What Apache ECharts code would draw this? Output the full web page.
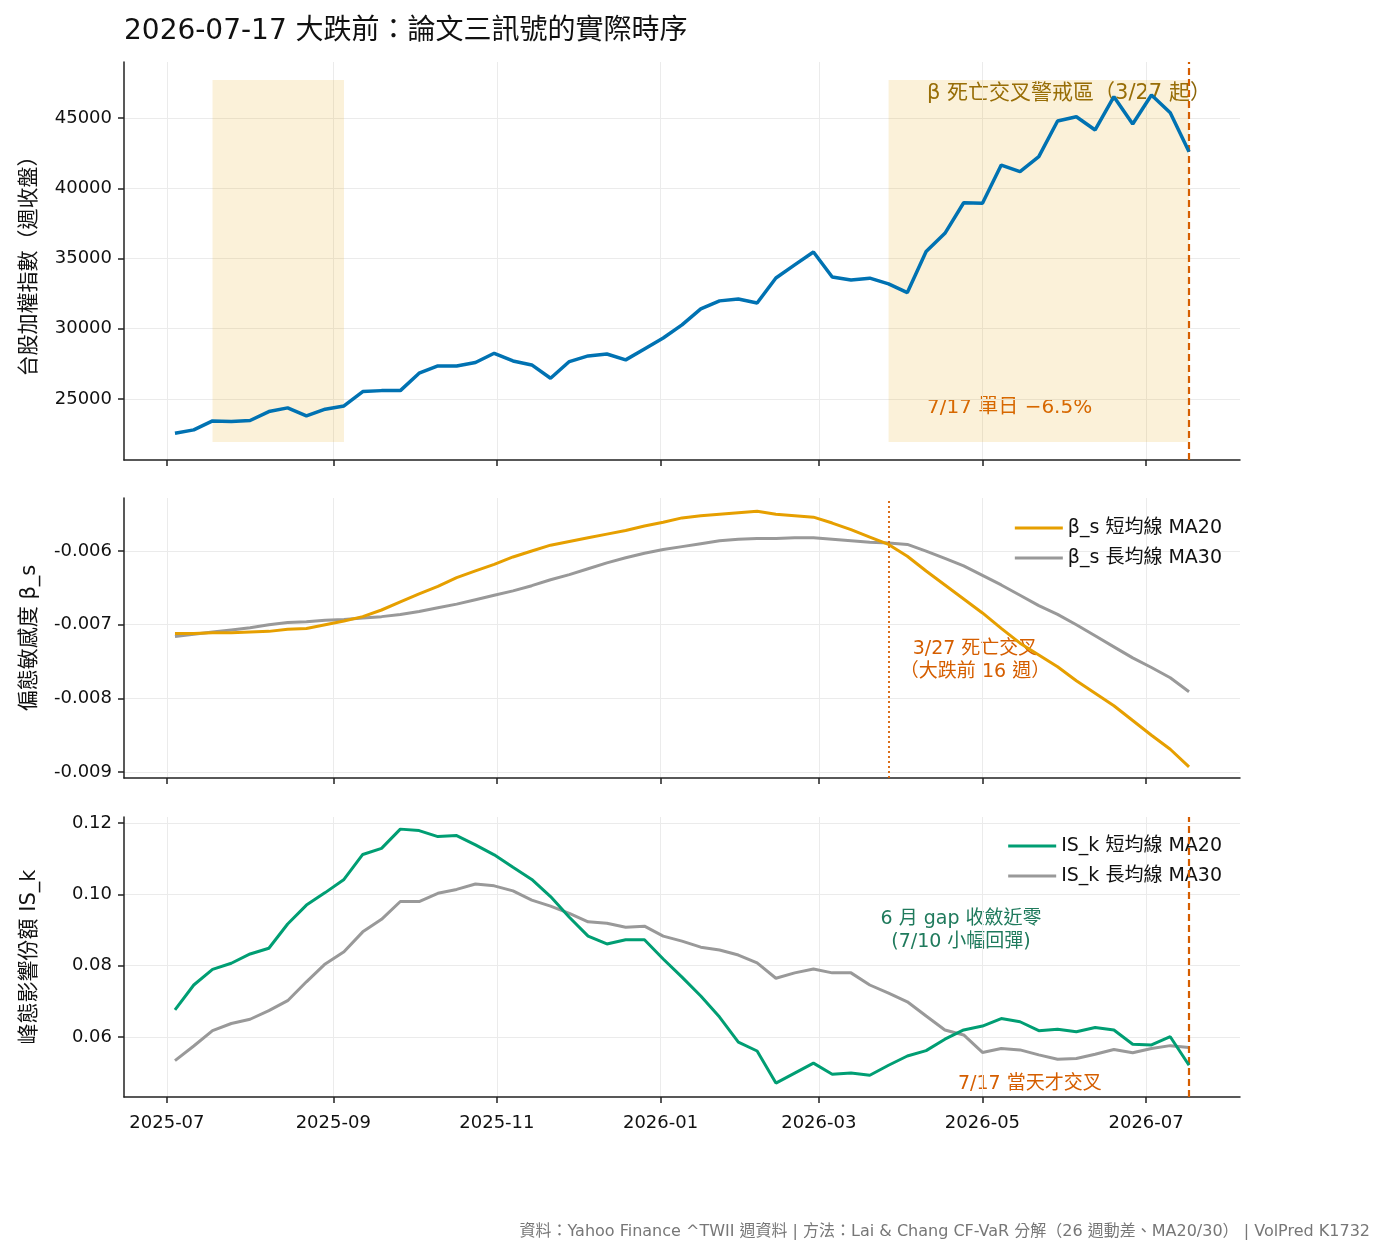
<!DOCTYPE html>
<html>
<head>
<meta charset="utf-8">
<script src="https://cdn.jsdelivr.net/npm/echarts@6/dist/echarts.min.js"></script>
<style>
  html, body { margin: 0; padding: 0; background: #fff; }
  #chart { width: 1386px; height: 1256px; }
</style>
</head>
<body>
<div id="chart"></div>
<script>
// 週資料（每週五收盤）
const weeks = [
  '2025-07-04','2025-07-11','2025-07-18','2025-07-25','2025-08-01','2025-08-08','2025-08-15','2025-08-22','2025-08-29',
  '2025-09-05','2025-09-12','2025-09-19','2025-09-26','2025-10-03','2025-10-10','2025-10-17','2025-10-24','2025-10-31',
  '2025-11-07','2025-11-14','2025-11-21','2025-11-28','2025-12-05','2025-12-12','2025-12-19','2025-12-26',
  '2026-01-02','2026-01-09','2026-01-16','2026-01-23','2026-01-30','2026-02-06','2026-02-13','2026-02-20','2026-02-27',
  '2026-03-06','2026-03-13','2026-03-20','2026-03-27','2026-04-03','2026-04-10','2026-04-17','2026-04-24',
  '2026-05-01','2026-05-08','2026-05-15','2026-05-22','2026-05-29','2026-06-05','2026-06-12','2026-06-19','2026-06-26',
  '2026-07-03','2026-07-10','2026-07-17'
];

// 台股加權指數（週收盤）
const twii = [
  22560, 22795, 23435, 23390, 23460, 24100, 24360, 23790, 24270,
  24500, 25520, 25590, 25590, 26830, 27350, 27350, 27590, 28250,
  27700, 27420, 26470, 27660, 28060, 28200, 27780, 28560,
  29340, 30270, 31410, 31980, 32120, 31830, 33610, 34540, 35460,
  33680, 33470, 33600, 33190, 32570, 35490, 36790, 38970,
  38930, 41650, 41180, 42250, 44790, 45090, 44150, 46520, 44570,
  46640, 45380, 42600
];

// 偏態敏感度 β_s
const betaMA20 = [
  -0.00712, -0.00712, -0.00711, -0.00711, -0.00710, -0.00709, -0.00706, -0.00705, -0.00700,
  -0.00695, -0.00689, -0.00680, -0.00669, -0.00658, -0.00648, -0.00636, -0.00627, -0.00618,
  -0.00608, -0.00600, -0.00592, -0.00587, -0.00582, -0.00577, -0.00572, -0.00566,
  -0.00561, -0.00555, -0.00552, -0.00550, -0.00548, -0.00546, -0.00550, -0.00552, -0.00554,
  -0.00562, -0.00571, -0.00581, -0.00591, -0.00607, -0.00627, -0.00646, -0.00665,
  -0.00684, -0.00705, -0.00725, -0.00741, -0.00757, -0.00776, -0.00793, -0.00810, -0.00830,
  -0.00850, -0.00869, -0.00893
];
const betaMA30 = [
  -0.00716, -0.00713, -0.00710, -0.00707, -0.00704, -0.00700, -0.00697, -0.00696, -0.00694,
  -0.00693, -0.00691, -0.00689, -0.00686, -0.00682, -0.00677, -0.00672, -0.00666, -0.00660,
  -0.00654, -0.00647, -0.00639, -0.00632, -0.00624, -0.00616, -0.00609, -0.00603,
  -0.00598, -0.00594, -0.00590, -0.00586, -0.00584, -0.00583, -0.00583, -0.00582, -0.00582,
  -0.00584, -0.00586, -0.00588, -0.00589, -0.00591, -0.00600, -0.00610, -0.00620,
  -0.00633, -0.00646, -0.00660, -0.00674, -0.00686, -0.00700, -0.00715, -0.00730, -0.00745,
  -0.00758, -0.00772, -0.00791
];

// 峰態影響份額 IS_k
const iskMA20 = [
  0.0676, 0.0746, 0.0790, 0.0807, 0.0833, 0.0849, 0.0917, 0.0970, 0.1005,
  0.1042, 0.1112, 0.1129, 0.1183, 0.1179, 0.1162, 0.1165, 0.1139, 0.1111,
  0.1076, 0.1042, 0.0994, 0.0936, 0.0883, 0.0861, 0.0873, 0.0873,
  0.0819, 0.0768, 0.0715, 0.0656, 0.0586, 0.0561, 0.0471, 0.0499, 0.0527,
  0.0496, 0.0499, 0.0493, 0.0521, 0.0547, 0.0562, 0.0594, 0.0620,
  0.0631, 0.0652, 0.0643, 0.0618, 0.0622, 0.0615, 0.0627, 0.0620, 0.0580,
  0.0578, 0.0601, 0.0521
];
const iskMA30 = [
  0.0534, 0.0575, 0.0618, 0.0638, 0.0650, 0.0674, 0.0702, 0.0755, 0.0805,
  0.0839, 0.0895, 0.0930, 0.0980, 0.0980, 0.1003, 0.1014, 0.1029, 0.1024,
  0.1010, 0.0984, 0.0967, 0.0947, 0.0923, 0.0919, 0.0908, 0.0911,
  0.0883, 0.0869, 0.0852, 0.0844, 0.0830, 0.0808, 0.0765, 0.0780, 0.0791,
  0.0780, 0.0780, 0.0746, 0.0723, 0.0699, 0.0659, 0.0620, 0.0606,
  0.0557, 0.0568, 0.0564, 0.0550, 0.0538, 0.0540, 0.0552, 0.0565, 0.0556,
  0.0568, 0.0576, 0.0571
];

// 刻度
const monthTicks = ['2025-07-01','2025-09-01','2025-11-01','2026-01-01','2026-03-01','2026-05-01','2026-07-01'];
const twiiTicks = [25000, 30000, 35000, 40000, 45000];
const betaTicks = [-0.009, -0.008, -0.007, -0.006];
const iskTicks = [0.06, 0.08, 0.10, 0.12];

// 陰影區間 & 事件日
const shadeEarly = ['2025-07-18', '2025-09-05'];
const shadeDeath = ['2026-03-27', '2026-07-17'];
const crashDay = '2026-07-17';
const deathCross = '2026-03-27';

const FONT = "'DejaVu Sans', 'Noto Sans CJK TC', sans-serif";
const C_BLUE = '#0072B2', C_ORANGE = '#E69F00', C_GREEN = '#009E73', C_GRAY = '#999999', C_RED = '#D55E00';

// 日期轉成時間戳（x 軸用數值軸，刻度放在月初）
const ts = s => Date.UTC(+s.slice(0, 4), +s.slice(5, 7) - 1, +s.slice(8, 10));
const xMin = ts('2025-06-15'), xMax = ts('2026-08-05');
const tickTs = monthTicks.map(ts);
const pairs = arr => weeks.map((d, i) => [ts(d), arr[i]]);
const fmtMonth = v => {
  const d = new Date(v);
  return d.getUTCFullYear() + '-' + String(d.getUTCMonth() + 1).padStart(2, '0');
};

const chartDom = document.getElementById('chart');
const myChart = echarts.init(chartDom);

const grids = [
  { left: 124, top: 62, width: 1116, height: 398 },
  { left: 124, top: 498, width: 1116, height: 280 },
  { left: 124, top: 817, width: 1116, height: 280 }
];

function xAxisFor(idx, showLabel) {
  return {
    type: 'value', gridIndex: idx, min: xMin, max: xMax,
    axisLine: { onZero: false, lineStyle: { color: '#222', width: 1.5 } },
    axisTick: { show: true, length: 6, lineStyle: { color: '#222', width: 1.5 }, customValues: tickTs },
    axisLabel: {
      show: showLabel, customValues: tickTs, margin: 17,
      color: '#111', fontFamily: FONT, fontSize: 18, formatter: fmtMonth
    },
    splitLine: { show: true, lineStyle: { color: '#ebebeb', width: 1 } }
  };
}

function yAxisFor(idx, min, max, ticks, fmt, name) {
  return {
    type: 'value', gridIndex: idx, min: min, max: max,
    name: name, nameLocation: 'middle', nameGap: 84, nameRotate: 90,
    nameTextStyle: { color: '#111', fontFamily: FONT, fontSize: 21 },
    axisLine: { show: true, onZero: false, lineStyle: { color: '#222', width: 1.5 } },
    axisTick: { show: true, length: 6, lineStyle: { color: '#222', width: 1.5 }, customValues: ticks },
    axisLabel: { customValues: ticks, margin: 12, color: '#111', fontFamily: FONT, fontSize: 18, formatter: fmt },
    splitLine: { show: true, lineStyle: { color: '#ebebeb', width: 1 } }
  };
}

const vLine = (date, type, width) => ({
  silent: true, symbol: ['none', 'none'], label: { show: false },
  lineStyle: { color: C_RED, type: type, width: width },
  data: [{ xAxis: ts(date) }]
});

const legendText = { fontFamily: FONT, fontSize: 19, color: '#111', lineHeight: 20 };

const option = {
  backgroundColor: '#fff',
  animation: false,
  grid: grids,
  xAxis: [xAxisFor(0, false), xAxisFor(1, false), xAxisFor(2, true)],
  yAxis: [
    yAxisFor(0, 20650, 48990, twiiTicks, v => String(v), '台股加權指數（週收盤）'),
    yAxisFor(1, -0.00908, -0.00528, betaTicks, v => v.toFixed(3), '偏態敏感度 β_s'),
    yAxisFor(2, 0.0432, 0.1217, iskTicks, v => v.toFixed(2), '峰態影響份額 IS_k')
  ],
  legend: [
    {
      data: ['β_s 短均線 MA20', 'β_s 長均線 MA30'],
      orient: 'vertical', right: 159, top: 513, itemWidth: 48, itemHeight: 3, itemGap: 10,
      icon: 'rect', textStyle: legendText
    },
    {
      data: ['IS_k 短均線 MA20', 'IS_k 長均線 MA30'],
      orient: 'vertical', right: 159, top: 831, itemWidth: 48, itemHeight: 3, itemGap: 10,
      icon: 'rect', textStyle: legendText
    }
  ],
  series: [
    {
      name: '台股加權指數', type: 'line', xAxisIndex: 0, yAxisIndex: 0,
      data: pairs(twii), showSymbol: false, lineStyle: { color: C_BLUE, width: 3.5 }, itemStyle: { color: C_BLUE },
      z: 5,
      markArea: {
        silent: true, itemStyle: { color: 'rgba(230,159,0,0.15)' },
        data: [
          [{ xAxis: ts(shadeEarly[0]), yAxis: 21940 }, { xAxis: ts(shadeEarly[1]), yAxis: 47700 }],
          [{ xAxis: ts(shadeDeath[0]), yAxis: 21940 }, { xAxis: ts(shadeDeath[1]), yAxis: 47700 }]
        ]
      },
      markLine: vLine(crashDay, [7, 4], 2.2)
    },
    {
      name: 'β_s 短均線 MA20', type: 'line', xAxisIndex: 1, yAxisIndex: 1,
      data: pairs(betaMA20), showSymbol: false, lineStyle: { color: C_ORANGE, width: 3 }, itemStyle: { color: C_ORANGE },
      z: 5,
      markLine: vLine(deathCross, [2, 3], 1.8)
    },
    {
      name: 'β_s 長均線 MA30', type: 'line', xAxisIndex: 1, yAxisIndex: 1,
      data: pairs(betaMA30), showSymbol: false, lineStyle: { color: C_GRAY, width: 3 }, itemStyle: { color: C_GRAY },
      z: 4
    },
    {
      name: 'IS_k 短均線 MA20', type: 'line', xAxisIndex: 2, yAxisIndex: 2,
      data: pairs(iskMA20), showSymbol: false, lineStyle: { color: C_GREEN, width: 3 }, itemStyle: { color: C_GREEN },
      z: 5,
      markLine: vLine(crashDay, [7, 4], 2.2)
    },
    {
      name: 'IS_k 長均線 MA30', type: 'line', xAxisIndex: 2, yAxisIndex: 2,
      data: pairs(iskMA30), showSymbol: false, lineStyle: { color: C_GRAY, width: 3 }, itemStyle: { color: C_GRAY },
      z: 4
    }
  ],
  graphic: [
    { type: 'text', left: 124, top: 18, style: { text: '2026-07-17 大跌前：論文三訊號的實際時序', fontFamily: FONT, fontSize: 28, fill: '#111' } },
    { type: 'text', left: 927, top: 83, style: { text: 'β 死亡交叉警戒區（3/27 起）', fontFamily: FONT, fontSize: 21, fill: '#8B6508' } },
    { type: 'text', left: 927, top: 398, style: { text: '7/17 單日 −6.5%', fontFamily: FONT, fontSize: 20, fill: C_RED } },
    { type: 'text', x: 975, y: 638, style: { text: '3/27 死亡交叉\n（大跌前 16 週）', align: 'center', lineHeight: 23, fontFamily: FONT, fontSize: 19, fill: C_RED } },
    { type: 'text', x: 961, y: 908, style: { text: '6 月 gap 收斂近零\n(7/10 小幅回彈)', align: 'center', lineHeight: 23, fontFamily: FONT, fontSize: 19, fill: '#1F7A5C' } },
    { type: 'text', left: 958, top: 1075, style: { text: '7/17 當天才交叉', fontFamily: FONT, fontSize: 19, fill: C_RED } },
    { type: 'text', right: 16, top: 1224, style: { text: '資料：Yahoo Finance ^TWII 週資料 | 方法：Lai & Chang CF-VaR 分解（26 週動差、MA20/30） | VolPred K1732', fontFamily: FONT, fontSize: 16, fill: '#777' } }
  ]
};

myChart.setOption(option);
</script>
</body>
</html>
